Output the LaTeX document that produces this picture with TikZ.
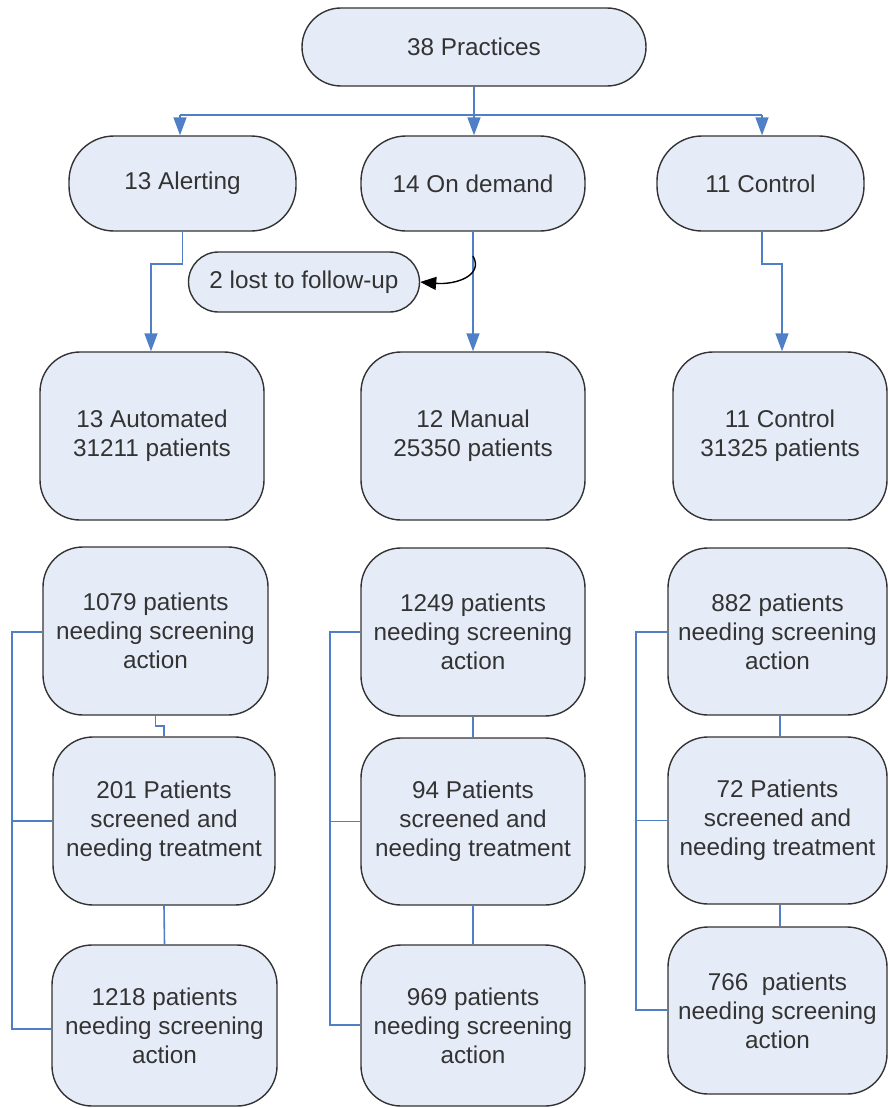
\documentclass[tikz,border=0pt]{standalone}
\usepackage{fontspec}
\setmainfont{Liberation Sans}
\usetikzlibrary{arrows.meta}
\definecolor{boxfill}{HTML}{E6ECF7}
\definecolor{boxline}{HTML}{333333}
\definecolor{conblue}{HTML}{4F7FC6}
\definecolor{txt}{HTML}{333333}
\tikzset{
  box/.style={draw=boxline, line width=1.4pt, fill=boxfill, rounded corners=40pt,
    align=center, text=txt, inner sep=0pt, font=\fontsize{24.3}{29}\selectfont},
  pill/.style={box, rounded corners=#1},
  conn/.style={draw=conblue, line width=1.6pt},
  arr/.style={conn, -{Triangle[length=18pt,width=13pt]}},
}
\begin{document}
\begin{tikzpicture}[x=1pt,y=-1pt]
\useasboundingbox (0,0) rectangle (888,1108);
% row 1
\node[pill=39pt, minimum width=344pt, minimum height=78pt] (top) at (474,47) {38 Practices};
% row 2
\node[pill=45pt, minimum width=227pt, minimum height=95pt] (alert) at (182.5,183.5) {13 Alerting};
\node[pill=45pt, minimum width=224pt, minimum height=95pt] (ond) at (473,183.5) {14 On demand};
\node[pill=45pt, minimum width=207pt, minimum height=95pt] (ctl) at (760.5,183.5) {11 Control};
\node[pill=30pt, minimum width=231pt, minimum height=60pt] (lost) at (304,282) {2 lost to follow-up};
% row 3
\node[box, minimum width=224pt, minimum height=168pt] (auto) at (152,436) {13 Automated\\31211 patients};
\node[box, minimum width=224pt, minimum height=168pt] (man) at (473,436) {12 Manual\\25350 patients};
\node[box, minimum width=214pt, minimum height=168pt] (ctl2) at (780,436) {11 Control\\31325 patients};
% column 1
\node[box, minimum width=225pt, minimum height=168pt] (a1) at (155.5,631) {1079 patients\\needing screening\\action};
\node[box, minimum width=222pt, minimum height=168pt] (a2) at (164,821) {201 Patients\\screened and\\needing treatment};
\node[box, minimum width=225pt, minimum height=161pt] (a3) at (164.5,1025.5) {1218 patients\\needing screening\\action};
% column 2
\node[box, minimum width=224pt, minimum height=168pt] (b1) at (473,632) {1249 patients\\needing screening\\action};
\node[box, minimum width=224pt, minimum height=167pt] (b2) at (473,821.5) {94 Patients\\screened and\\needing treatment};
\node[box, minimum width=224pt, minimum height=161pt] (b3) at (473,1025.5) {969 patients\\needing screening\\action};
% column 3
\node[box, minimum width=219pt, minimum height=167pt] (c1) at (777.5,631.5) {882 patients\\needing screening\\action};
\node[box, minimum width=219pt, minimum height=167pt] (c2) at (777.5,820.5) {72 Patients\\screened and\\needing treatment};
\node[box, minimum width=219pt, minimum height=167pt] (c3) at (777.5,1010.5) {766\ \ patients\\needing screening\\action};
% top connectors
\coordinate (hl) at (180,115);
\coordinate (hr) at (762,115);
\draw[conn] (hl) -- (hr);
\draw[arr] (top.south) -- (top.south |- ond.north);
\draw[arr] (hl) -- (alert.north -| hl);
\draw[arr] (hr) -- (ctl.north -| hr);
% row 2 -> row 3
\draw[arr] (alert.south) -- ++(0,32) -| ([xshift=-1pt]auto.north);
\draw[arr] (ond.south) -- (man.north);
\draw[arr] (ctl.south -| hr) -- ++(0,32) -| ([xshift=2pt]ctl2.north);
\coordinate (lc) at (473,256);
\draw[black, line width=1.4pt, -{Triangle[length=16pt,width=13pt]}] (lc) .. controls (484,276) and (455,285) .. (lost.east);
% column 1 connectors
\draw[conn] (a1.south) -- ++(0,10) -| (a2.north);
\draw[conn] (a2.south) -- (a3.north);
\coordinate (ab) at (12,632);
\draw[conn] (a1.west |- ab) -- (ab) |- (a3.west |- 0,1029);
\draw[conn] (ab |- a2.west) -- (a2.west);
% column 2 connectors
\draw[conn] (b1.south) -- (b2.north);
\draw[conn] (b2.south) -- (b3.north);
\coordinate (bb) at (330,632);
\draw[conn] (b1.west |- bb) -- (bb) |- (b3.west |- 0,1025);
\draw[conn] (bb |- b2.west) -- (b2.west);
% column 3 connectors
\draw[conn] ([xshift=2.5pt]c1.south) -- ([xshift=2.5pt]c2.north);
\draw[conn] ([xshift=2.5pt]c2.south) -- ([xshift=2.5pt]c3.north);
\coordinate (cb) at (636,632);
\draw[conn] (c1.west |- cb) -- (cb) |- (c3.west |- 0,1010);
\draw[conn] (cb |- c2.west) -- (c2.west);
\end{tikzpicture}
\end{document}
